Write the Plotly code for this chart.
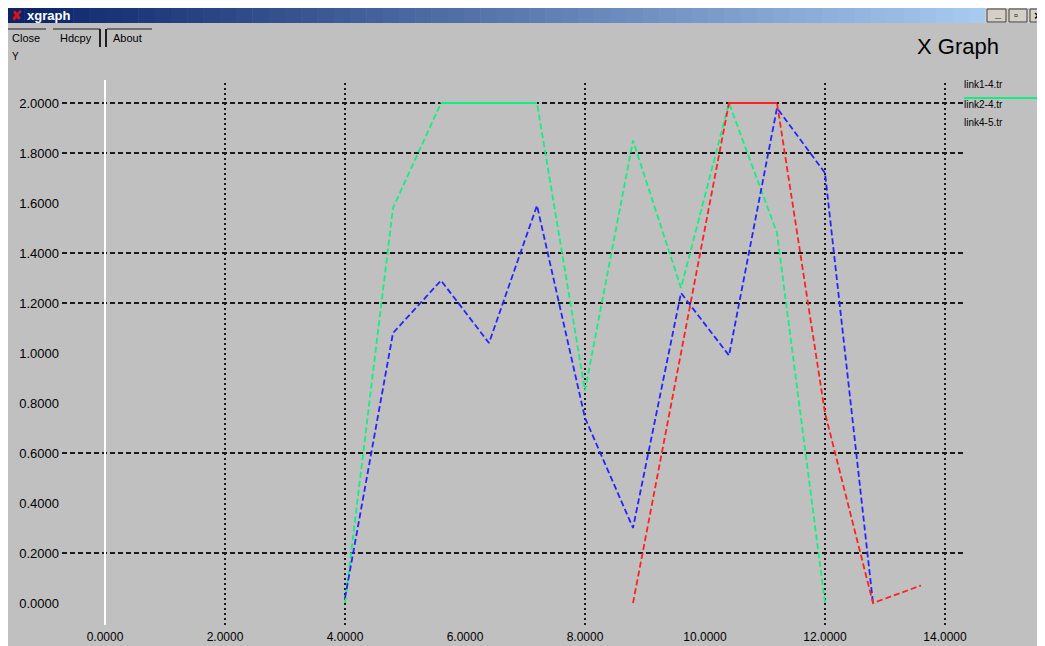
import plotly.graph_objects as go

# ---------------- data ----------------
green_x = [4.0, 4.8, 5.6, 6.4, 7.2, 8.0, 8.8, 9.6, 10.4, 11.2, 12.0]
green_y = [0.0, 1.58, 2.0, 2.0, 2.0, 0.85, 1.85, 1.26, 2.0, 1.48, 0.0]

blue_x = [4.0, 4.8, 5.6, 6.4, 7.2, 8.0, 8.8, 9.6, 10.4, 11.2, 12.0, 12.8]
blue_y = [0.02, 1.08, 1.29, 1.04, 1.59, 0.74, 0.30, 1.24, 0.99, 1.98, 1.72, 0.0]

red_x = [8.8, 9.6, 10.4, 11.2, 12.0, 12.8, 13.6]
red_y = [0.0, 1.0, 2.0, 2.0, 0.76, 0.0, 0.07]

series_names = ["link1-4.tr", "link2-4.tr", "link4-5.tr"]

x_tick_vals = [0, 2, 4, 6, 8, 10, 12, 14]
x_tick_text = ["0.0000", "2.0000", "4.0000", "6.0000", "8.0000", "10.0000", "12.0000", "14.0000"]
y_tick_vals = [0.0, 0.2, 0.4, 0.6, 0.8, 1.0, 1.2, 1.4, 1.6, 1.8, 2.0]
y_tick_text = ["0.0000", "0.2000", "0.4000", "0.6000", "0.8000", "1.0000",
               "1.2000", "1.4000", "1.6000", "1.8000", "2.0000"]

h_grid = [0.2, 0.6, 1.2, 1.4, 1.8, 2.0]
v_grid = [2, 4, 8, 12, 14]

# ---------------- layout geometry (page pixels) ----------------
OFF = 8                      # browser body margin
W, H = 1045, 646
PL, PR, PT, PB = 62, 965, 80, 625      # plot area in page pixels
X0_PX, X_PER = 105, 60.0
Y0_PX, Y_PER = 603, 250.0

def fx(p):
    return (p - PL) / (PR - PL)

def fy(p):
    return (PB - p) / (PB - PT)

x_range = [(PL - X0_PX) / X_PER, (PR - X0_PX) / X_PER]
y_range = [(Y0_PX - PB) / Y_PER, (Y0_PX - PT) / Y_PER]

BG = "#c0c0c0"
GREEN = "#10f080"
RED = "#ff2020"
BLUE = "#2424ff"

fig = go.Figure()

def add_series(xs, ys, color, name):
    fig.add_trace(go.Scatter(x=xs, y=ys, mode="lines", name=name,
                             line=dict(color=color, width=1.8, dash="6px,3px"),
                             showlegend=False, hoverinfo="skip"))
    for i in range(len(xs) - 1):
        if ys[i] == ys[i + 1]:
            fig.add_trace(go.Scatter(x=[xs[i], xs[i + 1]], y=[ys[i], ys[i + 1]],
                                     mode="lines", line=dict(color=color, width=2),
                                     showlegend=False, hoverinfo="skip"))

add_series(green_x, green_y, GREEN, series_names[0])
add_series(blue_x, blue_y, BLUE, series_names[2])
add_series(red_x, red_y, RED, series_names[1])

shapes = []
for v in h_grid:
    shapes.append(dict(type="line", xref="paper", yref="y", x0=0, x1=1, y0=v, y1=v,
                       line=dict(color="#1a1a1a", width=2, dash="5px,3px"), layer="below"))
for v in v_grid:
    shapes.append(dict(type="line", xref="x", yref="paper", x0=v, x1=v, y0=0, y1=1,
                       line=dict(color="#1a1a1a", width=2, dash="2px,3px"), layer="below"))

# title bar gradient
N = 60
c0, c1 = (10, 36, 106), (166, 202, 240)
bar_end = 985
for i in range(N):
    t = i / (N - 1)
    col = "rgb(%d,%d,%d)" % tuple(int(c0[k] + (c1[k] - c0[k]) * t) for k in range(3))
    xa = OFF + (bar_end - OFF) * i / N
    xb = OFF + (bar_end - OFF) * (i + 1) / N + 0.5
    shapes.append(dict(type="rect", xref="paper", yref="paper", x0=fx(xa), x1=fx(xb),
                       y0=fy(23), y1=fy(OFF), fillcolor=col, line=dict(width=0)))
shapes.append(dict(type="rect", xref="paper", yref="paper", x0=fx(bar_end), x1=fx(W + OFF),
                   y0=fy(23), y1=fy(OFF), fillcolor="#d4d0c8", line=dict(width=0)))
for (a, b) in [(987, 1006), (1009, 1027), (1030, 1046)]:
    shapes.append(dict(type="rect", xref="paper", yref="paper", x0=fx(a), x1=fx(b),
                       y0=fy(22), y1=fy(9), fillcolor="#d4d0c8",
                       line=dict(color="#404040", width=1)))

def hline(x0, x1, y, w=2, c="#202020"):
    shapes.append(dict(type="line", xref="paper", yref="paper", x0=fx(x0), x1=fx(x1),
                       y0=fy(y), y1=fy(y), line=dict(color=c, width=w)))

def vline(x, y0, y1, w=2, c="#202020"):
    shapes.append(dict(type="line", xref="paper", yref="paper", x0=fx(x), x1=fx(x),
                       y0=fy(y0), y1=fy(y1), line=dict(color=c, width=w)))

hline(OFF, 46, 29, 1)
hline(53, 100, 29, 1)
vline(100, 29, 47, 2)
vline(106, 29, 47, 2)
hline(107, 152, 29, 1)

annotations = []

def label(txt, x, y, size=11, color="black", xanchor="left", bold=False, family="Liberation Sans"):
    if bold:
        txt = "<b>%s</b>" % txt
    annotations.append(dict(text=txt, xref="paper", yref="paper", x=fx(x), y=fy(y),
                            xanchor=xanchor, yanchor="middle", showarrow=False,
                            font=dict(size=size, color=color, family=family)))

label("✘", 9, 15, 13, "#e01010", bold=True)
label("xgraph", 25, 15, 13, "white", bold=True)
label("_", 992, 13, 11, "black", bold=True)
label("▫", 1012, 15, 11, "black", bold=True)
label("×", 1032, 15, 13, "black", bold=True)

label("Close", 10, 38, 11)
label("Hdcpy", 58, 38, 11)
label("About", 111, 38, 11)
label("Y", 10, 57, 10)

label("X Graph", 958, 46, 22, xanchor="center")

leg_y = [85, 104, 122]
for name, yy in zip(series_names, leg_y):
    label(name, 962, yy, 10)
shapes.append(dict(type="line", xref="paper", yref="paper", x0=fx(964), x1=fx(W + OFF),
                   y0=fy(98), y1=fy(98), line=dict(color=GREEN, width=2)))

fig.update_layout(
    width=W, height=H,
    margin=dict(l=PL - OFF, r=W - (PR - OFF), t=PT - OFF, b=H - (PB - OFF), autoexpand=False),
    paper_bgcolor=BG, plot_bgcolor=BG,
    shapes=shapes, annotations=annotations,
    showlegend=False,
    font=dict(family="Liberation Sans", size=12, color="black"),
    xaxis=dict(range=x_range, tickmode="array", tickvals=x_tick_vals, ticktext=x_tick_text,
               showgrid=False, zeroline=True, zerolinecolor="white", zerolinewidth=2,
               showline=False, ticks="", ticklabelstandoff=3, automargin=False,
               tickfont=dict(size=12, color="black")),
    yaxis=dict(range=y_range, tickmode="array", tickvals=y_tick_vals, ticktext=y_tick_text,
               showgrid=False, zeroline=False, showline=False, ticks="", automargin=False,
               ticklabelstandoff=2, tickfont=dict(size=13, color="black")),
)

fig.write_html("out.html")
